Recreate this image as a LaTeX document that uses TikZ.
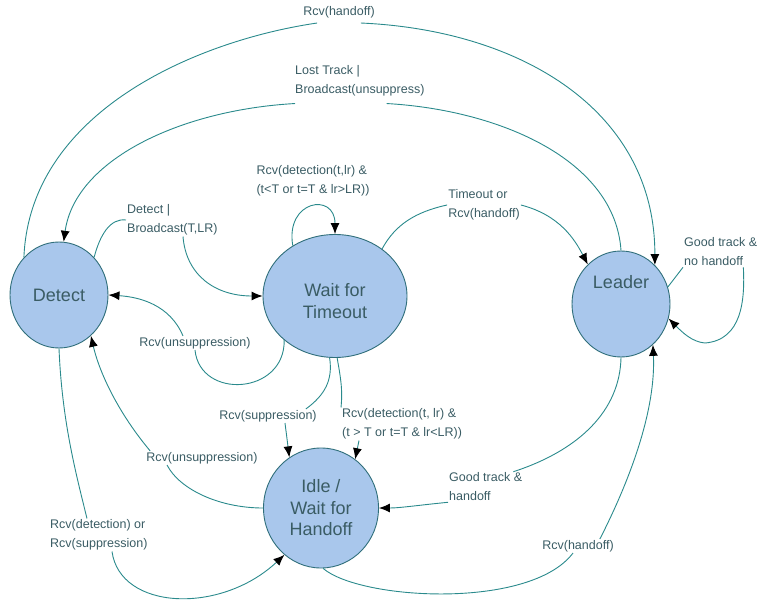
\documentclass[tikz,border=0pt]{standalone}
\usepackage{fontspec}
\setmainfont{Liberation Sans}
\usetikzlibrary{shapes.geometric,arrows.meta}
\definecolor{statefill}{HTML}{A9C7EC}
\definecolor{stateline}{HTML}{2F6E7A}
\definecolor{edgeline}{HTML}{2A8A8C}
\definecolor{labeltext}{HTML}{3A5C64}
\tikzstyle{state} = [draw=stateline, fill=statefill, ellipse, line width=0.9pt, inner sep=0pt, text=labeltext, font=\fontsize{18}{21.5}\selectfont, align=center]
\tikzstyle{statetext} = [text=labeltext, font=\fontsize{18}{21.5}\selectfont, align=center]
\tikzstyle{lbl} = [text=labeltext, font=\fontsize{12.5}{19}\selectfont, align=left, inner sep=1pt]
\tikzstyle{edge} = [draw=edgeline, line width=0.9pt]

\begin{document}
\begin{tikzpicture}[x=1pt,y=-1pt,>={Latex[length=11pt,width=9pt,color=black]}]
	\useasboundingbox (0,0) rectangle (759,609);
	% states
	\node (detect) [state, minimum width=98pt, minimum height=106pt] at (59,295) {Detect};
	\node (wait) [state, minimum width=144pt, minimum height=123pt, label={[statetext,yshift=-5pt]center:Wait for\\Timeout}] at (335,296) {};
	\node (leader) [state, minimum width=98pt, minimum height=106pt, label={[statetext,yshift=22pt]center:Leader}] at (621,304) {};
	\node (idle) [state, minimum width=115pt, minimum height=120pt] at (321,508) {Idle /\\Wait for\\Handoff};

	% transition labels
	\node (hoTop) [lbl] at (339,12) {Rcv(handoff)};
	\node (lost) [lbl, anchor=west] at (294,81) {Lost Track |\\Broadcast(unsuppress)};
	\node (bcast) [lbl, anchor=west] at (126,220) {Detect |\\Broadcast(T,LR)};
	\node (selfWait) [lbl] at (313,181) {Rcv(detection(t,lr) \&\\(t<T or t=T \& lr>LR))};
	\node (tout) [lbl] at (484,205) {Timeout or\\Rcv(handoff)};
	\node (goodNo) [lbl, anchor=west] at (683,252) {Good track \&\\no handoff};
	\node (goodHo) [lbl, anchor=west] at (448,487) {Good track \&\\handoff};
	\node (hoBot) [lbl] at (578,546) {Rcv(handoff)};
	\node (supp) [lbl] at (268,416) {Rcv(suppression)};
	\node (detLR) [lbl, anchor=west] at (341,424) {Rcv(detection(t, lr) \&\\(t > T or t=T \& lr<LR))};
	\node (unsupUp) [lbl] at (195,343) {Rcv(unsuppression)};
	\node (unsupLo) [lbl] at (202,458) {Rcv(unsuppression)};
	\node (detSupp) [lbl, anchor=west] at (49,535) {Rcv(detection) or\\Rcv(suppression)};

	% detect <-> leader (outer arcs)
	\draw[edge] (detect.133) .. controls (30,110) and (200,40) .. ([xshift=15pt,yshift=-4pt]hoTop.south west);
	\draw[edge,->] ([xshift=-15pt,yshift=-4pt]hoTop.south east) .. controls (520,30) and (655,110) .. (leader.49);
	\draw[edge] (leader.90) .. controls (615,160) and (500,110) .. ([xshift=-39pt,yshift=-6pt]lost.south east);
	\draw[edge,->] ([xshift=1pt,yshift=-6pt]lost.south west) .. controls (180,110) and (75,160) .. (detect.85);

	% detect -> wait
	\draw[edge] (detect.47) .. controls (100,235) and (110,218) .. (bcast.west);
	\draw[edge,->] ([xshift=57pt]bcast.south west) .. controls (186,275) and (215,296) .. (wait.west);

	% wait -> detect
	\draw[edge] (wait.221) .. controls (285,395) and (200,400) .. (unsupUp.south);
	\draw[edge,->] ([xshift=-12pt]unsupUp.north) .. controls (170,305) and (140,297) .. (detect.east);

	% wait self loop
	\draw[edge,->] (wait.130) .. controls (285,200) and (335,192) .. (wait.90);

	% wait -> leader
	\draw[edge] (wait.45) .. controls (395,225) and (415,212) .. (tout.west);
	\draw[edge,->] (tout.east) .. controls (560,215) and (575,240) .. (leader.130);

	% leader self loop
	\draw[edge] (leader.20) -- (goodNo.south west);
	\draw[edge,->] ([xshift=-15pt]goodNo.south east) .. controls (745,300) and (742,340) .. (705,343) .. controls (692,342) and (682,332) .. (leader.-17);

	% leader -> idle
	\draw[edge] (leader.south) .. controls (620,410) and (580,450) .. ([xshift=-10pt]goodHo.north east);
	\draw[edge,->] (goodHo.south west) .. controls (420,505) and (400,508) .. (idle.east);

	% idle -> leader
	\draw[edge] (idle.-88) .. controls (360,600) and (530,610) .. ([xshift=-5pt]hoBot.south);
	\draw[edge,->] ([xshift=-15pt]hoBot.north east) .. controls (630,480) and (656,410) .. (leader.-52);

	% wait -> idle
	\draw[edge] (wait.-95) .. controls (333,380) and (325,395) .. ([xshift=-12pt]supp.north east);
	\draw[edge,->] ([xshift=17pt]supp.south) -- (idle.122);
	\draw[edge] (wait.-88) .. controls (340,375) and (343,388) .. (detLR.north west);
	\draw[edge,->] ([xshift=18pt]detLR.south west) -- (idle.55);

	% idle -> detect
	\draw[edge] (idle.west) .. controls (220,508) and (180,490) .. ([xshift=-35pt]unsupLo.south);
	\draw[edge,->] ([xshift=5pt]unsupLo.north west) .. controls (120,415) and (100,375) .. (detect.-52);

	% detect -> idle
	\draw[edge] (detect.-90) .. controls (62,420) and (75,470) .. ([xshift=38pt]detSupp.north west);
	\draw[edge,->] ([xshift=63pt]detSupp.south west) .. controls (120,610) and (220,615) .. (idle.232);
\end{tikzpicture}
\end{document}
